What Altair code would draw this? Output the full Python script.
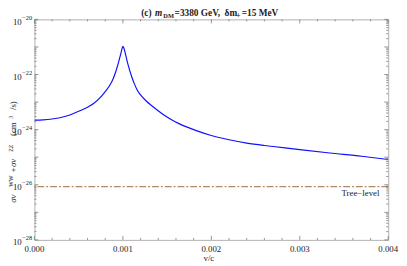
import altair as alt
import pandas as pd

# ---- data (log10 of sigma v, cm^3/s) ----
v = [0.0, 0.0001, 0.0002, 0.0003, 0.0004, 0.0005, 0.0006, 0.00068, 0.00074, 0.0008,
     0.00085, 0.00089, 0.00092, 0.00094, 0.00096, 0.00098, 0.00099, 0.001,
     0.00101, 0.00102, 0.00103, 0.00105, 0.00107, 0.0011, 0.00113, 0.00116,
     0.0012, 0.00127, 0.00133, 0.00138, 0.00146, 0.00155, 0.00164, 0.00183,
     0.002, 0.0022, 0.0024, 0.0026, 0.0027, 0.003, 0.00334, 0.0037, 0.004]
log_sigma = [-23.654, -23.645, -23.615, -23.561, -23.47, -23.33, -23.19, -23.025, -22.85, -22.62,
             -22.40, -22.15, -21.89, -21.68, -21.44, -21.20, -21.06, -20.975,
             -21.04, -21.14, -21.27, -21.54, -21.775, -22.08, -22.34, -22.55,
             -22.74, -22.98, -23.14, -23.27, -23.46, -23.64, -23.79, -24.036,
             -24.214, -24.368, -24.489, -24.575, -24.612, -24.725, -24.846, -24.964, -25.082]
sigma = [10 ** e for e in log_sigma]
tree_level = 8.5e-27

x_major = [0.0, 0.001, 0.002, 0.003, 0.004]
x_labels = ["0.000", "0.001", "0.002", "0.003", "0.004"]
x_minor = [0.0002, 0.0004, 0.0006, 0.0008, 0.0012, 0.0014, 0.0016, 0.0018,
           0.0022, 0.0024, 0.0026, 0.0028, 0.0032, 0.0034, 0.0036, 0.0038]
y_decades = [1e-28, 1e-27, 1e-26, 1e-25, 1e-24, 1e-23, 1e-22, 1e-21, 1e-20]
y_label_vals = [1e-28, 1e-26, 1e-24, 1e-22, 1e-20]
y_label_exps = ["\u221228", "\u221226", "\u221224", "\u221222", "\u221220"]
y_minor = [k * d for d in y_decades[:-1] for k in range(2, 10)]

title_parts = ["(c)", "m", "DM", "=3380 GeV, ", "\u03b4m", "+", "=15 MeV"]
ytitle_parts = ["\u03c3v", "WW", "+\u03c3v", "ZZ", "(cm", "3", "/s)"]
x_title = "v/c"
tree_text = "Tree\u2212level"

# ---- style ----
W, H = 361, 225
SERIF = "Liberation Serif, Times New Roman, DejaVu Serif, serif"
BLUE = "#1010ff"
BROWN = "#9c6b3a"
TICK = "#777777"
TXT = "#222222"

xs = alt.Scale(domain=[0, 0.004], nice=False, zero=False)
ys = alt.Scale(type="log", domain=[1e-28, 1e-20], nice=False)

curve = alt.Chart(pd.DataFrame({"v": v, "sigma": sigma})).mark_line(
    color=BLUE, strokeWidth=1.2, interpolate="monotone", clip=True
).encode(x=alt.X("v:Q", scale=xs, axis=None), y=alt.Y("sigma:Q", scale=ys, axis=None))

tree = alt.Chart(pd.DataFrame({"y": [tree_level]})).mark_rule(
    color=BROWN, strokeWidth=1, strokeDash=[7, 2, 2, 2]
).encode(y=alt.Y("y:Q", scale=ys, axis=None))


def xticks(vals, length):
    d = pd.DataFrame({"x": vals})
    b = alt.Chart(d).mark_rule(color=TICK, strokeWidth=0.8).encode(
        x=alt.X("x:Q", scale=xs, axis=None), y=alt.value(H), y2=alt.value(H - length))
    t = alt.Chart(d).mark_rule(color=TICK, strokeWidth=0.8).encode(
        x=alt.X("x:Q", scale=xs, axis=None), y=alt.value(0), y2=alt.value(length))
    return b + t


def yticks(vals, length):
    d = pd.DataFrame({"y": vals})
    l = alt.Chart(d).mark_rule(color=TICK, strokeWidth=0.8).encode(
        y=alt.Y("y:Q", scale=ys, axis=None), x=alt.value(0), x2=alt.value(length))
    r = alt.Chart(d).mark_rule(color=TICK, strokeWidth=0.8).encode(
        y=alt.Y("y:Q", scale=ys, axis=None), x=alt.value(W), x2=alt.value(W - length))
    return l + r


def label(text, px, py, size, **kw):
    return alt.Chart(pd.DataFrame({"t": [text]})).mark_text(
        font=SERIF, fontSize=size, color=TXT, **kw
    ).encode(text="t:N", x=alt.value(px), y=alt.value(py))


xlab = alt.Chart(pd.DataFrame({"x": x_major, "t": x_labels})).mark_text(
    font=SERIF, fontSize=9, color=TXT, baseline="middle", align="center"
).encode(x=alt.X("x:Q", scale=xs, axis=None), y=alt.value(H + 9), text="t:N")

ylab10 = alt.Chart(pd.DataFrame({"y": y_label_vals})).mark_text(
    font=SERIF, fontSize=9, color=TXT, baseline="middle", align="right", dy=2.5, text="10"
).encode(y=alt.Y("y:Q", scale=ys, axis=None), x=alt.value(-13))

ylabexp = alt.Chart(pd.DataFrame({"y": y_label_vals, "t": y_label_exps})).mark_text(
    font=SERIF, fontSize=6.5, color=TXT, baseline="middle", align="left", dy=-1.5
).encode(y=alt.Y("y:Q", scale=ys, axis=None), x=alt.value(-12.5), text="t:N")

# title pieces (bold)
tb = dict(fontWeight="bold", baseline="alphabetic", align="left")
title = (
    label(title_parts[0], 109, -3, 9.5, **tb)
    + label(title_parts[1], 123, -3, 9.5, fontStyle="italic", **tb)
    + label(title_parts[2], 131.5, -1, 6.5, **tb)
    + label(title_parts[3], 143, -3, 9.5, **tb)
    + label(title_parts[4], 194, -3, 9.5, **tb)
    + label(title_parts[5], 206, -1.5, 7.5, **tb)
    + label(title_parts[6], 211.5, -3, 9.5, **tb)
)

# rotated y title pieces
rt = dict(angle=270, align="center", baseline="middle")
NX, SX = -21.5, -24.2
ytitle = (
    label(ytitle_parts[0], NX, 183, 9, fontStyle="italic", **rt)
    + label(ytitle_parts[1], SX, 165, 6, **rt)
    + label(ytitle_parts[2], NX, 149.5, 9, fontStyle="italic", **rt)
    + label(ytitle_parts[3], SX, 131.5, 6, **rt)
    + label(ytitle_parts[4], NX, 112, 9, **rt)
    + label(ytitle_parts[5], SX, 100, 6, **rt)
    + label(ytitle_parts[6], NX, 88, 9, **rt)
)

xtitle = label(x_title, 178, 244, 9, align="center", baseline="middle")
treelab = label(tree_text, 352, 177, 9, align="right", baseline="middle")

chart = alt.layer(
    tree, curve,
    xticks(x_major, 4), xticks(x_minor, 2),
    yticks(y_decades, 4), yticks(y_minor, 2),
    xlab, ylab10, ylabexp, title, ytitle, xtitle, treelab,
).properties(
    width=W, height=H,
    padding={"left": 27, "top": 9, "right": 11, "bottom": 24},
    autosize=alt.AutoSizeParams(type="none"),
).configure_view(stroke="#b0b0b0", strokeWidth=1)

chart.save("out.html", embed_options={"renderer": "svg", "actions": False})
